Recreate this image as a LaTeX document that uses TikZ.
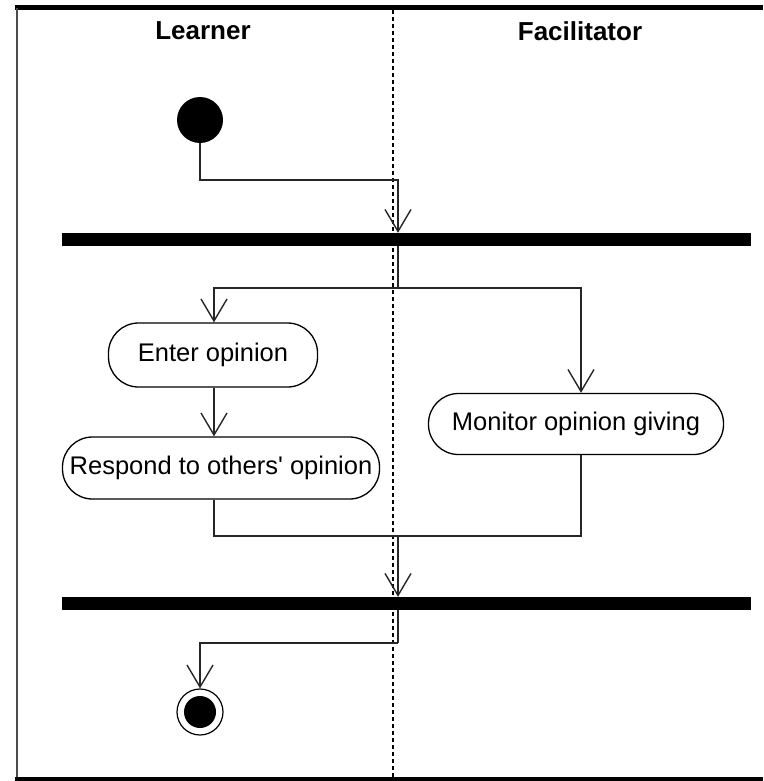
\documentclass[tikz,border=0pt]{standalone}
\usepackage{fontspec}
\setmainfont{Liberation Sans}
\usetikzlibrary{arrows.meta,calc}
\begin{document}
\begin{tikzpicture}[x=1pt,y=-1pt,
  flow/.style={draw=black!85, line width=1.4pt,
    -{Straight Barb[length=22pt,width=26pt,line width=1.4pt]}},
  link/.style={draw=black!85, line width=1.4pt},
  activity/.style={draw=black, line width=1.3pt, rounded corners=30pt,
    fill=white, inner sep=0pt, font=\fontsize{25.5}{29}\selectfont},
  syncbar/.style={fill=black, inner sep=0pt, minimum width=689pt,
    minimum height=13pt},
  lane/.style={font=\bfseries\fontsize{26}{30}\selectfont},
  startnode/.style={circle, fill=black, minimum size=46pt, inner sep=0pt},
  endring/.style={circle, draw=black, line width=1.2pt, fill=white,
    minimum size=46pt, inner sep=0pt},
  enddot/.style={circle, fill=black, minimum size=32pt, inner sep=0pt}]
\useasboundingbox (0,0) rectangle (763,781);
\fill[white] (0,0) rectangle (763,781);

% frame
\draw[line width=5pt] (15,7.5) -- (763,7.5);
\draw[black!70, line width=2pt] (16.5,8) -- (16.5,781);
\draw[line width=4pt] (15,779) -- (763,779);

% swimlane divider
\draw[line width=1.2pt, dash pattern=on 4pt off 3pt] (393,10) -- (393,777);

% lane headers
\node[lane] (learner) at (203,31) {Learner};
\node[lane] (facil) at (580,31) {Facilitator};

% start / end
\node[startnode] (start) at (200,120) {};
\node[endring] (finish) at (200,712) {};
\node[enddot] (finishdot) at (finish) {};

% synchronisation bars
\node[syncbar] (bar1) at (406.5,239.5) {};
\node[syncbar] (bar2) at (406.5,603.5) {};

% activities
\node[activity, minimum width=209pt, minimum height=64pt] (enter) at (213,355) {Enter opinion};
\node[activity, minimum width=317pt, minimum height=62pt] (respond) at (221,468) {Respond to others\textquotesingle\ opinion};
\node[activity, minimum width=295pt, minimum height=61pt] (monitor) at (576,424) {Monitor opinion giving};

% routing points
\coordinate (j1) at (398,180);
\coordinate (s1) at (398,288);
\coordinate (m1) at (398,536);
\coordinate (s2) at (398,643);
\coordinate (xl) at (214,0);
\coordinate (xr) at (581,0);

% connectors
\draw[flow] (start.south) |- (j1) -- (j1 |- bar1.north);
\draw[link] (j1 |- bar1.south) -- (s1);
\draw[flow] (s1) -| (xl |- enter.north);
\draw[flow] (s1) -| (xr |- monitor.north);
\draw[flow] (xl |- enter.south) -- (xl |- respond.north);
\draw[link] (xl |- respond.south) |- (m1);
\draw[link] (xr |- monitor.south) |- (m1);
\draw[flow] (m1) -- (m1 |- bar2.north);
\draw[link] (s2 |- bar2.south) -- (s2);
\draw[flow] (s2) -| (finish.north);
\end{tikzpicture}
\end{document}
